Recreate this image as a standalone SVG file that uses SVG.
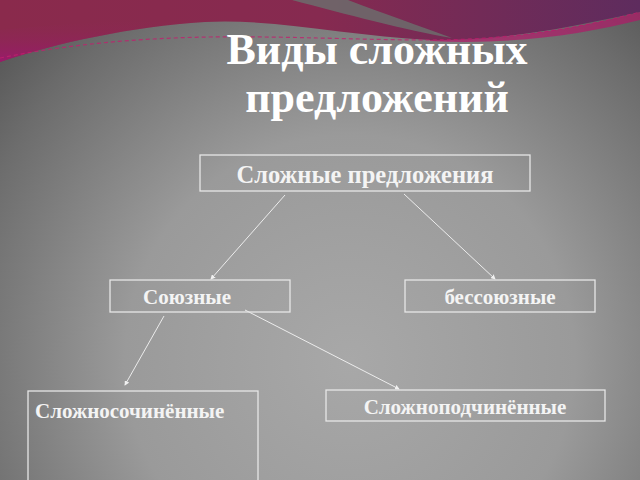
<svg xmlns="http://www.w3.org/2000/svg" width="640" height="480" viewBox="0 0 640 480">
<defs>
<radialGradient id="bg" cx="350" cy="360" r="500" gradientUnits="userSpaceOnUse">
<stop offset="0" stop-color="#a8a8a8"/>
<stop offset="0.45" stop-color="#9a9a9a"/>
<stop offset="0.8" stop-color="#6c6c6c"/>
<stop offset="1" stop-color="#4e4e4e"/>
</radialGradient>
<linearGradient id="band" x1="0" y1="0" x2="640" y2="0" gradientUnits="userSpaceOnUse">
<stop offset="0" stop-color="#8a2a4c"/>
<stop offset="0.5" stop-color="#862a50"/>
<stop offset="1" stop-color="#5e2c5e"/>
</linearGradient>
<linearGradient id="bandlow" x1="0" y1="20" x2="0" y2="62" gradientUnits="userSpaceOnUse">
<stop offset="0" stop-color="#8c2a52" stop-opacity="0"/>
<stop offset="1" stop-color="#9a1a6c"/>
</linearGradient>
<marker id="ah" viewBox="0 0 6 6" refX="5" refY="3" markerWidth="5" markerHeight="5" orient="auto" markerUnits="userSpaceOnUse">
<path d="M0,0 L6,3 L0,6 Z" fill="#f0f0f0"/>
</marker>
<style>
.box{fill:none;stroke:#e6e6e6;stroke-width:1.3}
.lbl{font-family:"Liberation Serif","Times New Roman",serif;font-weight:bold;font-size:21px;fill:#f4f4f4}
.big{font-size:24.5px}
.ttl{font-family:"Liberation Serif","Times New Roman",serif;font-weight:bold;font-size:44px;fill:#ffffff;text-anchor:middle}
.con{stroke:#ececec;stroke-width:1;fill:none;marker-end:url(#ah)}
</style>
</defs>
<rect x="0" y="0" width="640" height="480" fill="url(#bg)"/>
<path d="M0,0 H640 V12 C560,30 490,42 430,40 C350,36 270,18 205,22 C130,27 60,42 0,62 Z" fill="url(#band)"/>
<path d="M0,30 C80,22 150,18 205,22 C130,27 60,42 0,62 Z" fill="url(#bandlow)"/>
<path d="M292,0 L348,0 C385,14 420,26 452,38 C405,30 345,14 292,0 Z" fill="#6c6c6c" opacity="0.85"/>
<path d="M0,58 C70,44 140,38 210,37 C290,36 360,40 430,40 C510,40 580,28 640,12" fill="none" stroke="#c0206e" stroke-width="1.2" stroke-dasharray="4,3" opacity="0.8"/>
<path d="M430,40 C510,40 580,28 640,12 L640,20 C580,35 510,45 430,41 Z" fill="#b01868" opacity="0.7"/>
<text class="ttl" x="377" y="64">Виды сложных</text>
<text class="ttl" x="377" y="112">предложений</text>
<g id="connectors">
<line class="con" x1="285" y1="195" x2="211" y2="279"/>
<line class="con" x1="404" y1="194" x2="495" y2="279"/>
<line class="con" x1="164" y1="316" x2="125" y2="385"/>
<line class="con" x1="245" y1="310" x2="399" y2="389"/>
</g>
<g id="n-root">
<rect class="box" x="200" y="155" width="330" height="36"/>
<text class="lbl big" x="365" y="183" text-anchor="middle">Сложные предложения</text>
</g>
<g id="n-soyuz">
<rect class="box" x="110" y="280" width="180" height="32"/>
<text class="lbl" x="143" y="304">Союзные</text>
</g>
<g id="n-bessoyuz">
<rect class="box" x="405" y="280" width="190" height="32"/>
<text class="lbl" x="500" y="304" text-anchor="middle">бессоюзные</text>
</g>
<g id="n-slozhnosoch">
<rect class="box" x="28" y="391" width="230" height="100"/>
<text class="lbl" x="35" y="418">Сложносочинённые</text>
</g>
<g id="n-slozhnopodch">
<rect class="box" x="326" y="390" width="279" height="31"/>
<text class="lbl" x="465" y="414" text-anchor="middle">Сложноподчинённые</text>
</g>
</svg>
